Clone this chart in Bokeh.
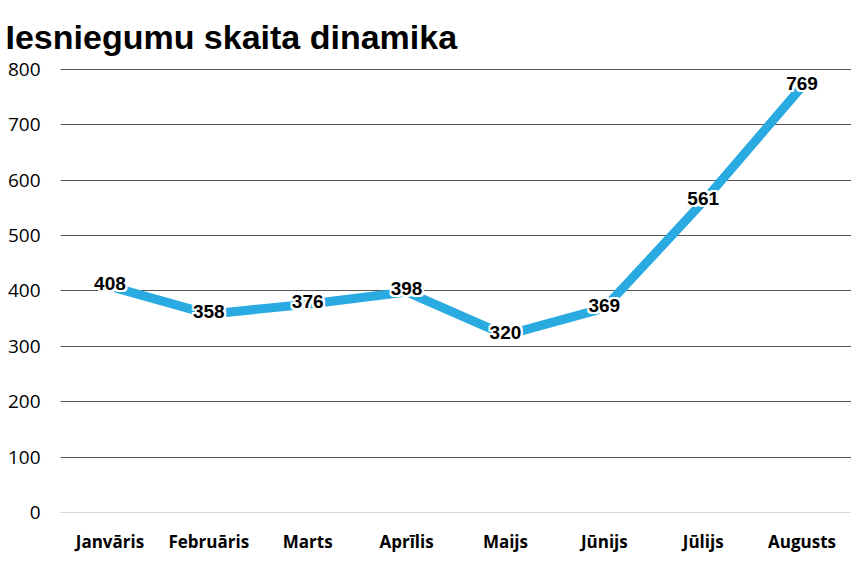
from bokeh.plotting import figure
from bokeh.models import ColumnDataSource, FixedTicker, Range1d
from bokeh.core.properties import value
from bokeh.embed import file_html
from bokeh.resources import INLINE

months = ["Janvāris", "Februāris", "Marts", "Aprīlis", "Maijs", "Jūnijs", "Jūlijs", "Augusts"]
counts = [408, 358, 376, 398, 320, 369, 561, 769]
y_ticks = [0, 100, 200, 300, 400, 500, 600, 700, 800]
title_text = "Iesniegumu skaita dinamika"

src = ColumnDataSource(dict(m=months, v=counts, t=[str(c) for c in counts]))

# range extends below zero so the category labels fit under the zero line
p = figure(x_range=months, y_range=Range1d(-74, 805), width=851, height=553,
           output_backend="svg", toolbar_location=None,
           min_border_left=60, min_border_right=0, min_border_top=66, min_border_bottom=0)
p.outline_line_color = None
p.background_fill_color = "white"
p.border_fill_color = "white"

p.title.text = title_text
p.title.text_font = "Liberation Sans"
p.title.text_font_style = "bold"
p.title.text_font_size = "34px"
p.title.text_color = "black"
p.title.offset = -55
p.title.standoff = 22

p.line("m", "v", source=src, line_color="#29ABE2", line_width=9)

lbl = dict(text_align="center", text_baseline="middle",
           text_font=value("Liberation Sans"), text_font_style="bold", text_font_size="19px")
d = 2
for dx, dy in [(-d, 0), (d, 0), (0, -d), (0, d), (-d, -d), (d, d), (-d, d), (d, -d)]:
    p.text("m", "v", text="t", source=src, text_color="white",
           x_offset=dx, y_offset=-3 + dy, **lbl)
p.text("m", "v", text="t", source=src, text_color="black", y_offset=-3, **lbl)

p.yaxis.ticker = FixedTicker(ticks=y_ticks)
p.yaxis.axis_line_color = None
p.yaxis.major_tick_line_color = None
p.yaxis.major_tick_out = 0
p.yaxis.major_tick_in = 0
p.yaxis.minor_tick_line_color = None
p.yaxis.major_label_standoff = 20
p.yaxis.major_label_text_font = "Open Sans"
p.yaxis.major_label_text_font_size = "19px"
p.yaxis.major_label_text_color = "black"

p.xaxis.fixed_location = y_ticks[0]
p.xaxis.axis_line_color = None
p.xaxis.major_tick_line_color = None
p.xaxis.major_tick_out = 0
p.xaxis.major_tick_in = 0
p.xaxis.major_label_standoff = 17
p.xaxis.major_label_text_font = "Open Sans"
p.xaxis.major_label_text_font_style = "bold"
p.xaxis.major_label_text_font_size = "17px"
p.xaxis.major_label_text_color = "black"

p.xgrid.grid_line_color = None
p.ygrid.grid_line_color = "#555555"
p.ygrid.grid_line_width = 1.2

# light zero line
p.hspan(y=[0], line_color="#d9d9d9", line_width=1.2)

open("out.html", "w").write(file_html(p, INLINE))
